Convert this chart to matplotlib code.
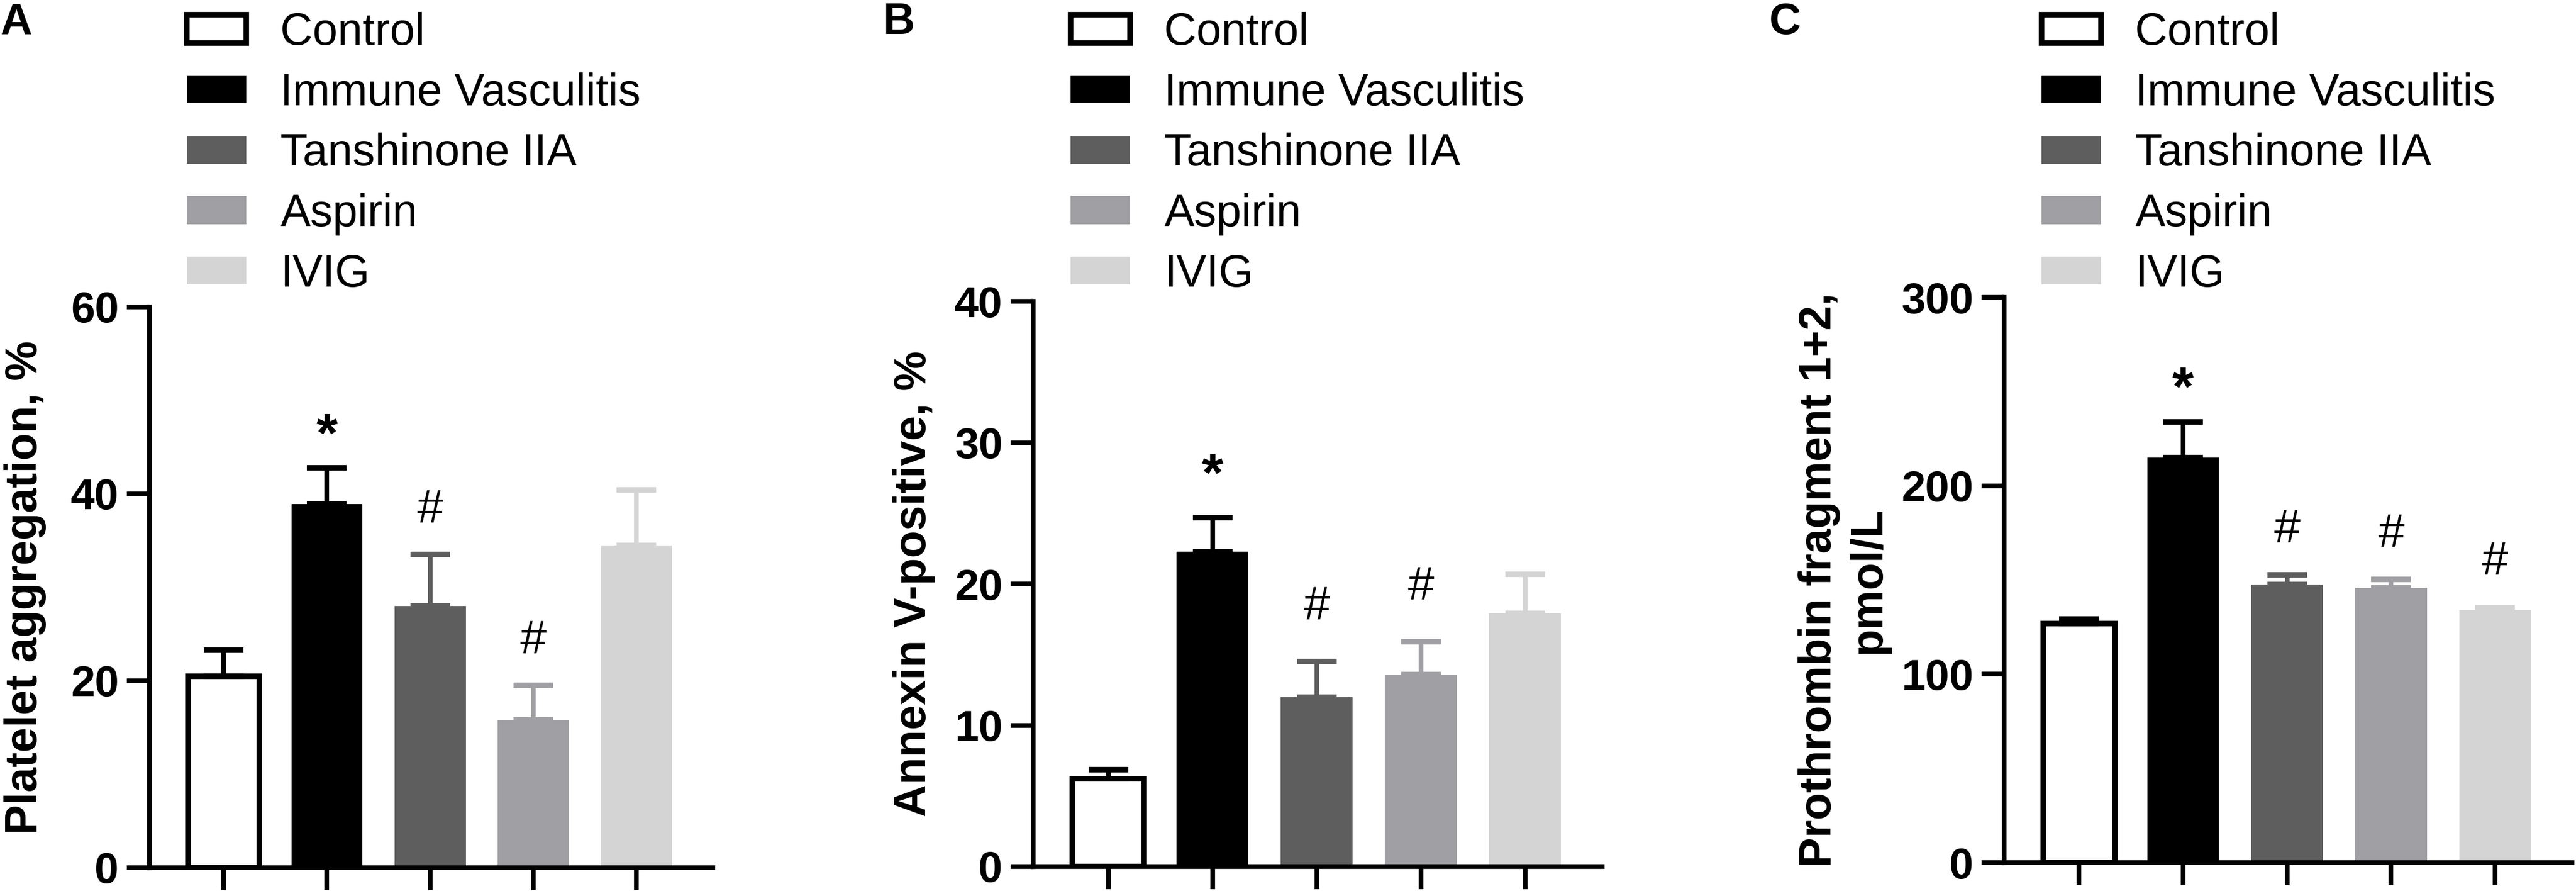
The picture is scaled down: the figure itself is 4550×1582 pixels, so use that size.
import matplotlib
matplotlib.use("Agg")
import matplotlib.pyplot as plt
from matplotlib.patches import Patch

plt.rcParams['font.family'] = ['Liberation Sans', 'DejaVu Sans']

# groups and colours (greyscale, as in the figure)
groups = ["Control", "Immune Vasculitis", "Tanshinone IIA", "Aspirin", "IVIG"]
bar_colors = ["#ffffff", "#000000", "#5e5e5e", "#a0a0a4", "#d4d4d4"]
err_colors = ["#000000", "#000000", "#5e5e5e", "#a0a0a4", "#d4d4d4"]

# A - platelet aggregation, %
platelet_mean = [20.5, 38.9, 28.0, 15.8, 34.5]
platelet_sem = [2.8, 3.9, 5.5, 3.7, 5.9]
platelet_marks = ["", "*", "#", "#", ""]

# B - Annexin V-positive, %
annexin_mean = [6.2, 22.3, 12.0, 13.6, 17.9]
annexin_sem = [0.65, 2.4, 2.5, 2.3, 2.8]
annexin_marks = ["", "*", "#", "#", ""]

# C - prothrombin fragment 1+2, pmol/L
f12_mean = [127, 215, 147.6, 145.8, 134.2]
f12_sem = [2.4, 18.8, 5.1, 4.5, 1.2]
f12_marks = ["", "*", "#", "#", "#"]

W, H = 4550, 1582
fig = plt.figure(figsize=(W / 100, H / 100), dpi=100)


def add_axes_px(left, right, bottom, top):
    return fig.add_axes([left / W, (H - bottom) / H, (right - left) / W, (bottom - top) / H])


def draw_panel(ax, means, sems, marks, ylim, yticks, ylabel, ylabel_x, letter, letter_x, gap=60):
    xs = range(len(means))
    for i in xs:
        ax.bar(i, means[i], width=0.69, color=bar_colors[i],
               edgecolor="black" if i == 0 else bar_colors[i],
               linewidth=7 if i == 0 else 0, zorder=2)
        ax.errorbar(i, means[i], yerr=[[0], [sems[i]]], fmt="none",
                    ecolor=err_colors[i], elinewidth=6, capsize=25, capthick=7, zorder=3)
        if marks[i]:
            # symbol centre sits `gap` points above the error bar
            if marks[i] == "*":
                fs, off, fw = 70, gap - 0.575 * 70, "bold"
            else:
                fs, off, fw = 60, gap - 0.352 * 60, "normal"
            ax.annotate(marks[i], (i, means[i] + sems[i]), xytext=(0, off),
                        textcoords="offset points", ha="center", va="baseline",
                        fontsize=fs, fontweight=fw)

    ax.set_xlim(-0.72, 4.74)
    ax.set_ylim(*ylim)
    ax.set_yticks(yticks)
    ax.set_xticks(list(xs))
    ax.tick_params(axis="both", direction="out", length=29, width=6, labelsize=55, pad=10)
    ax.tick_params(axis="x", labelbottom=False)
    for lbl in ax.get_yticklabels():
        lbl.set_fontweight("bold")
    for side in ["top", "right"]:
        ax.spines[side].set_visible(False)
    for side in ["left", "bottom"]:
        ax.spines[side].set_linewidth(6)

    ax.text(ylabel_x, 0.5, ylabel, transform=ax.transAxes, rotation=90,
            ha="center", va="center", fontsize=57, fontweight="bold",
            multialignment="center")

    handles = [Patch(facecolor=bar_colors[i],
                     edgecolor="black" if i == 0 else bar_colors[i],
                     linewidth=7 if i == 0 else 0, label=groups[i])
               for i in range(len(groups))]
    bb = ax.get_position()
    left_px = bb.x0 * W
    ax.legend(handles=handles, loc="upper left",
              bbox_to_anchor=((left_px + 66) / W, 1 - 21 / H),
              bbox_transform=fig.transFigure, frameon=False, fontsize=57,
              handlelength=1.33, handleheight=0.58, handletextpad=0.76,
              labelspacing=0.40, borderpad=0, borderaxespad=0)

    fig.text(letter_x / W, 1 - 3 / H, letter, fontsize=56, fontweight="bold",
             ha="left", va="top")


axA = add_axes_px(264, 1259, 1532, 542)
draw_panel(axA, platelet_mean, platelet_sem, platelet_marks, (0, 60), [0, 20, 40, 60],
           "Platelet aggregation, %", (45 - 264) / 995, "A", 0, gap=61)

axB = add_axes_px(1825, 2830, 1530, 532)
draw_panel(axB, annexin_mean, annexin_sem, annexin_marks, (0, 40), [0, 10, 20, 30, 40],
           "Annexin V-positive, %", (1615 - 1825) / 1005, "B", 1560, gap=74)

axC = add_axes_px(3540, 4543, 1523, 525)
draw_panel(axC, f12_mean, f12_sem, f12_marks, (0, 300), [0, 100, 200, 300],
           "Prothrombin fragment 1+2,\npmol/L", (3257 - 3540) / 1003, "C", 3125, gap=62)

fig.savefig("out.png", dpi=100)
